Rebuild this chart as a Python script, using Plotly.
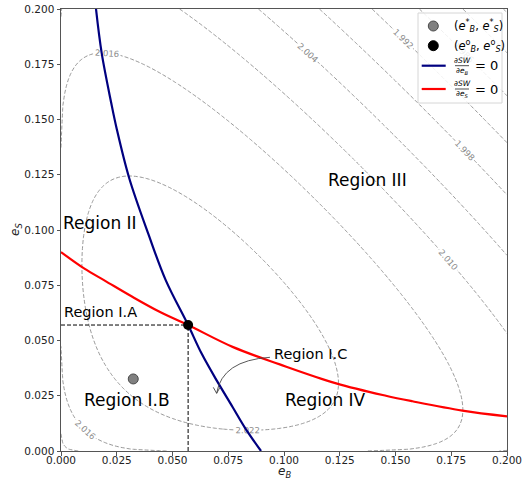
import numpy as np
import plotly.graph_objects as go

# ---- welfare surface SW(eB, eS) = base + root*(sqrt(eB)+sqrt(eS)) - quad*(eB+eS)^2
SW_BASE = 2.0052
SW_ROOT = 0.05484
SW_QUAD = 0.505
level_start, level_end, level_step = 1.974, 2.0221, 0.006

eB_grid = np.linspace(0.0, 0.2, 241)
eS_grid = np.linspace(0.0, 0.2, 241)
EB, ES = np.meshgrid(eB_grid, eS_grid)
SW = SW_BASE + SW_ROOT * (np.sqrt(EB) + np.sqrt(ES)) - SW_QUAD * (EB + ES) ** 2

# ---- first-order condition curves
foc_B_eB = [0.0157, 0.01825, 0.0225, 0.0250, 0.0306, 0.0392, 0.0470, 0.0570, 0.0630, 0.0700, 0.0770, 0.0825, 0.0897]
foc_B_eS = [0.2000, 0.1800, 0.1576, 0.1457, 0.1234, 0.0981, 0.0772, 0.0570, 0.0442, 0.0316, 0.0198, 0.0105, 0.0000]
foc_S_eB = [0.0000, 0.0105, 0.0198, 0.0316, 0.0442, 0.0570, 0.0772, 0.0981, 0.1234, 0.1457, 0.1576, 0.1800, 0.2000]
foc_S_eS = [0.0900, 0.0825, 0.0770, 0.0700, 0.0630, 0.0570, 0.0470, 0.0392, 0.0306, 0.0250, 0.0225, 0.0183, 0.0157]

# ---- special points
star_point = (0.0324, 0.0326)   # (e_B^*, e_S^*)
opt_point = (0.0570, 0.0570)    # (e_B^o, e_S^o)

tick_vals = [0.0, 0.025, 0.05, 0.075, 0.1, 0.125, 0.15, 0.175, 0.2]
tick_text = ["%.3f" % v for v in tick_vals]

region_labels = [
    ("Region II", 0.0175, 0.1032, 17),
    ("Region I.A", 0.0179, 0.0627, 14.5),
    ("Region I.B", 0.0294, 0.0231, 17),
    ("Region I.C", 0.1117, 0.0439, 14.5),
    ("Region IV", 0.1184, 0.0231, 17),
    ("Region III", 0.1374, 0.1226, 17),
]

FONT = "DejaVu Sans"
W, H = 531, 480
ML, MR, MT, MB = 61, 24, 9, 29
PW, PH = W - ML - MR, H - MT - MB


def fx(p):
    return (p - ML) / PW


def fy(p):
    return (H - MB - p) / PH


def paper_note(px, py, text, font, xanchor="center", **extra):
    return dict(x=fx(px), y=fy(py), xref="paper", yref="paper", text=text, showarrow=False,
                xanchor=xanchor, yanchor="middle", font=font, **extra)


fig = go.Figure()

fig.add_trace(go.Contour(
    x=eB_grid, y=eS_grid, z=SW,
    contours=dict(start=level_start, end=level_end, size=level_step,
                  coloring="none", showlabels=True, labelformat=".3f",
                  labelfont=dict(family=FONT, size=8.5, color="#8a8a8a")),
    line=dict(color="#8c8c8c", width=0.9, dash="4px,2px"),
    showscale=False, hoverinfo="skip", showlegend=False,
))

# guide lines to the optimum
fig.add_trace(go.Scatter(x=[0, opt_point[0]], y=[opt_point[1], opt_point[1]], mode="lines",
                         line=dict(color="black", width=1, dash="4px,2px"), showlegend=False))
fig.add_trace(go.Scatter(x=[opt_point[0], opt_point[0]], y=[0, opt_point[1]], mode="lines",
                         line=dict(color="black", width=1, dash="4px,2px"), showlegend=False))

fig.add_trace(go.Scatter(x=foc_B_eB, y=foc_B_eS, mode="lines", line_shape="spline",
                         line=dict(color="navy", width=2.2), showlegend=False))
fig.add_trace(go.Scatter(x=foc_S_eB, y=foc_S_eS, mode="lines", line_shape="spline",
                         line=dict(color="red", width=2.2), showlegend=False))

fig.add_trace(go.Scatter(x=[star_point[0]], y=[star_point[1]], mode="markers",
                         marker=dict(size=10, color="#808080", line=dict(color="#4a4a4a", width=1)),
                         showlegend=False))
fig.add_trace(go.Scatter(x=[opt_point[0]], y=[opt_point[1]], mode="markers",
                         marker=dict(size=10, color="black"), showlegend=False))

annotations = []
for text, x, y, size in region_labels:
    annotations.append(dict(x=x, y=y, xref="x", yref="y", text=text, showarrow=False,
                            xanchor="center", yanchor="middle",
                            font=dict(family=FONT, size=size, color="black")))

# axis titles
title_font = dict(family=FONT, size=12, color="#222")
annotations.append(paper_note(284, 472, "<i>e</i><sub><i>B</i></sub>", title_font, borderpad=0))
annotations.append(paper_note(16, 230, "<i>e</i><sub><i>S</i></sub>", title_font, textangle=-90))

shapes = []
# curved pointer for Region I.C
shapes.append(dict(type="path", xref="x", yref="y",
                   path="M 0.0937,0.0424 Q 0.0722,0.0410 0.0698,0.0261",
                   line=dict(color="#444", width=0.9)))
shapes.append(dict(type="path", xref="x", yref="y",
                   path="M 0.0683,0.0288 L 0.0698,0.0261 L 0.0713,0.0288",
                   line=dict(color="#444", width=0.9)))

# legend box
shapes.append(dict(type="rect", xref="paper", yref="paper", x0=fx(418), x1=fx(502), y0=fy(103), y1=fy(13),
                   fillcolor="rgba(255,255,255,0.85)", line=dict(color="#d6d6d6", width=1), layer="above"))
r = 5
for cy, col, edge in [(26, "#808080", "#4a4a4a"), (45.7, "black", "black")]:
    shapes.append(dict(type="circle", xref="paper", yref="paper",
                       x0=fx(433.3 - r), x1=fx(433.3 + r), y0=fy(cy + r), y1=fy(cy - r),
                       fillcolor=col, line=dict(color=edge, width=1), layer="above"))
for cy, col in [(65.7, "navy"), (89, "red")]:
    shapes.append(dict(type="line", xref="paper", yref="paper", x0=fx(421.7), x1=fx(445.7),
                       y0=fy(cy), y1=fy(cy), line=dict(color=col, width=2.2), layer="above"))
    # fraction bar
    shapes.append(dict(type="line", xref="paper", yref="paper", x0=fx(455), x1=fx(469),
                       y0=fy(cy), y1=fy(cy), line=dict(color="black", width=0.7), layer="above"))

legend_font = dict(family=FONT, size=11.5, color="black")
annotations.append(paper_note(452, 26,
                              "(<i>e</i><sup>*</sup><sub><i>B</i></sub>, <i>e</i><sup>*</sup><sub><i>S</i></sub>)",
                              legend_font, xanchor="left"))
annotations.append(paper_note(452, 45.5,
                              "(<i>e</i><sup>o</sup><sub><i>B</i></sub>, <i>e</i><sup>o</sup><sub><i>S</i></sub>)",
                              legend_font, xanchor="left"))
small = dict(family=FONT, size=7.5, color="black")
for cy, sub in [(65.7, "B"), (89, "S")]:
    annotations.append(paper_note(462, cy - 5, "∂<i>SW</i>", small))
    annotations.append(paper_note(462, cy + 5, "∂<i>e</i><sub><i>%s</i></sub>" % sub, small))
    annotations.append(paper_note(473, cy, "= 0", dict(family=FONT, size=13, color="black"), xanchor="left"))

axis_common = dict(range=[0, 0.2], showgrid=False, zeroline=False, showline=True, mirror=True,
                   automargin=False,
                   linecolor="#555", linewidth=1, ticks="outside", ticklen=3.5, tickwidth=0.8,
                   tickcolor="#555", tickvals=tick_vals, ticktext=tick_text,
                   tickfont=dict(family=FONT, size=10.5, color="#222"))

fig.update_layout(
    width=W, height=H,
    margin=dict(l=ML, r=MR, t=MT, b=MB, autoexpand=False),
    paper_bgcolor="white", plot_bgcolor="white",
    font=dict(family=FONT),
    xaxis=dict(**axis_common, ticklabelstandoff=-4),
    yaxis=dict(**axis_common),
    showlegend=False,
    annotations=annotations,
    shapes=shapes,
)

fig.write_html("out.html")
